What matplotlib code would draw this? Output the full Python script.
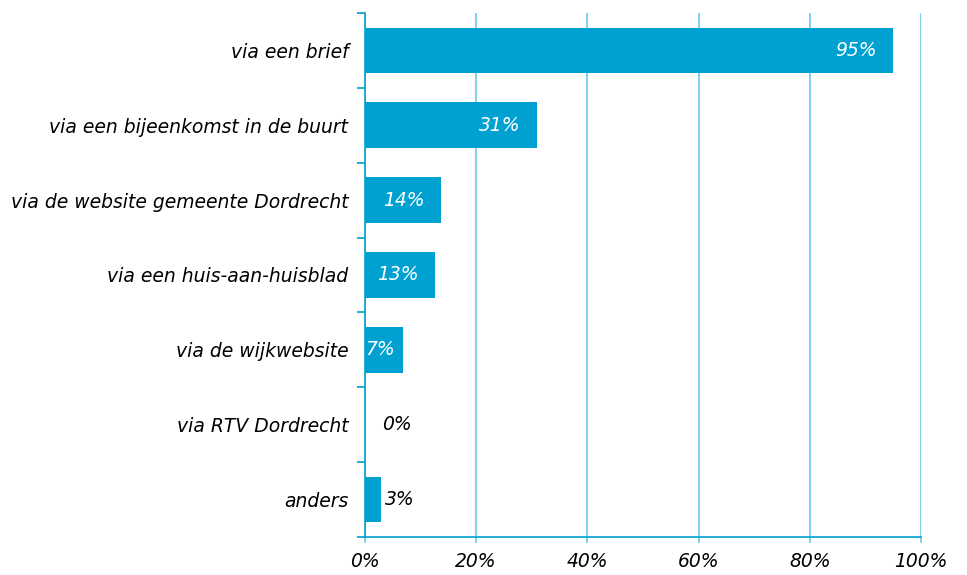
import matplotlib.pyplot as plt
from matplotlib.ticker import FixedLocator, FuncFormatter

# data
categories = ["via een brief", "via een bijeenkomst in de buurt",
              "via de website gemeente Dordrecht", "via een huis-aan-huisblad",
              "via de wijkwebsite", "via RTV Dordrecht", "anders"]
values = [95, 31, 13.7, 12.6, 6.8, 0, 2.9]
labels = ["95%", "31%", "14%", "13%", "7%", "0%", "3%"]

bar_color = "#00A1D0"
grid_color = "#6CCBEA"
fs = 13.5

fig = plt.figure(figsize=(9.67, 5.75), dpi=100)
ax = fig.add_axes([0.3775, 0.0661, 0.5749, 0.9113])

y = list(range(len(categories)))
ax.barh(y, values, height=0.61, color=bar_color, zorder=3)
ax.set_xlim(0, 100)
ax.set_ylim(len(categories) - 0.5, -0.5)

# value labels
for i, (v, lab) in enumerate(zip(values, labels)):
    if v >= 10:
        ax.annotate(lab, (v, i), xytext=(-12, 0), textcoords="offset points",
                    ha="right", va="center", color="white", fontsize=fs,
                    style="italic", zorder=4)
    elif v >= 5:
        ax.annotate(lab, (0, i), xytext=(0, 0), textcoords="offset points",
                    ha="left", va="center", color="white", fontsize=fs,
                    style="italic", zorder=4)
    else:
        off = 3 if v > 0 else 12
        ax.annotate(lab, (v, i), xytext=(off, 0), textcoords="offset points",
                    ha="left", va="center", color="black", fontsize=fs,
                    style="italic", zorder=4)

# axes styling
for s in ["top", "right"]:
    ax.spines[s].set_visible(False)
for s in ["left", "bottom"]:
    ax.spines[s].set_color(bar_color)
    ax.spines[s].set_linewidth(1.2)

ax.set_xticks([0, 20, 40, 60, 80, 100])
ax.xaxis.set_major_formatter(FuncFormatter(lambda x, p: f"{int(x)}%"))
ax.grid(axis="x", color=grid_color, linewidth=1.2, zorder=0)
ax.tick_params(axis="x", length=4, color=grid_color, width=1.2, pad=7,
               labelsize=fs)
for t in ax.get_xticklabels():
    t.set_style("italic")

ax.set_yticks(y)
ax.set_yticklabels(categories, fontsize=fs, style="italic")
ax.tick_params(axis="y", which="major", length=0, pad=12)
ax.yaxis.set_minor_locator(FixedLocator([i - 0.5 for i in range(len(categories) + 1)]))
ax.tick_params(axis="y", which="minor", length=6, color=bar_color, width=1.2)

plt.savefig("out.png", dpi=100)
